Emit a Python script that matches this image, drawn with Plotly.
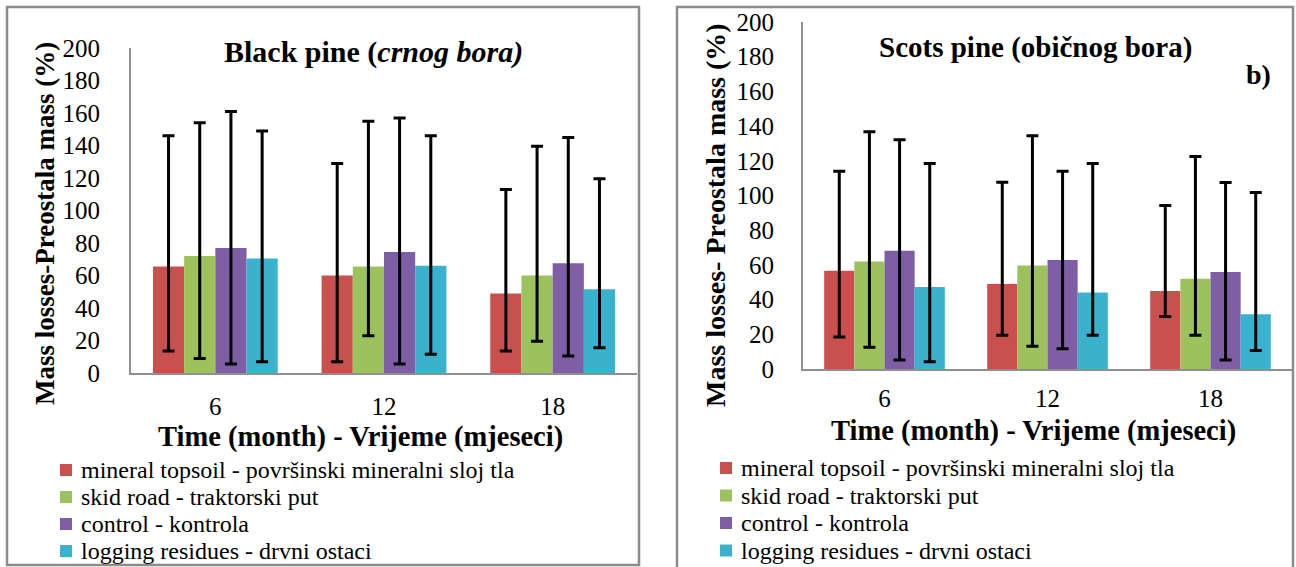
import plotly.graph_objects as go

W, H = 1296, 567

categories = ["6", "12", "18"]
series_names = [
    "mineral topsoil - površinski mineralni sloj tla",
    "skid road - traktorski put",
    "control - kontrola",
    "logging residues - drvni ostaci",
]
colors = ["#C8504E", "#9BC25C", "#7E5FA6", "#3AB2CE"]

# Black pine (left): mean, upper end of error bar, lower end of error bar
black_mineral = [65.5, 60.0, 49.0]
black_skid = [72.0, 65.5, 60.0]
black_control = [77.0, 74.5, 67.5]
black_residues = [70.5, 66.0, 51.5]
black_mineral_hi = [146, 129, 113]
black_skid_hi = [154, 155, 139.5]
black_control_hi = [161, 157, 145]
black_residues_hi = [149, 146, 119.5]
black_mineral_lo = [13.5, 7, 13.5]
black_skid_lo = [9, 23, 19.5]
black_control_lo = [5.5, 5.5, 10.5]
black_residues_lo = [7, 11.5, 15.5]

# Scots pine (right)
scots_mineral = [56.6, 49.0, 45.0]
scots_skid = [62.0, 59.7, 52.0]
scots_control = [68.2, 62.8, 55.9]
scots_residues = [47.2, 44.1, 31.6]
scots_mineral_hi = [114, 107.7, 94.2]
scots_skid_hi = [136.8, 134.5, 122.5]
scots_control_hi = [132.2, 114, 107.5]
scots_residues_hi = [118.5, 118.5, 101.7]
scots_mineral_lo = [18.5, 19.5, 30.2]
scots_skid_lo = [12.5, 13.1, 19.5]
scots_control_lo = [5.2, 11.6, 5.2]
scots_residues_lo = [4.2, 19.5, 10.6]

y_ticks = [0, 20, 40, 60, 80, 100, 120, 140, 160, 180, 200]

FONT = "Liberation Serif"

fig = go.Figure()

panels = [
    ("x", "y",
     [black_mineral, black_skid, black_control, black_residues],
     [black_mineral_hi, black_skid_hi, black_control_hi, black_residues_hi],
     [black_mineral_lo, black_skid_lo, black_control_lo, black_residues_lo]),
    ("x2", "y2",
     [scots_mineral, scots_skid, scots_control, scots_residues],
     [scots_mineral_hi, scots_skid_hi, scots_control_hi, scots_residues_hi],
     [scots_mineral_lo, scots_skid_lo, scots_control_lo, scots_residues_lo]),
]

for xa, ya, means, his, los in panels:
    for name, col, m, hi, lo in zip(series_names, colors, means, his, los):
        fig.add_trace(go.Bar(
            x=categories, y=m, name=name, xaxis=xa, yaxis=ya,
            marker=dict(color=col, line=dict(width=0)),
            error_y=dict(type="data", symmetric=False,
                         array=[h - v for h, v in zip(hi, m)],
                         arrayminus=[v - l for v, l in zip(m, lo)],
                         color="black", thickness=3, width=6),
            showlegend=False,
        ))


def px_x(p):
    return p / W


def px_y(p):
    return 1 - p / H


axis_common = dict(showgrid=False, zeroline=False, showline=True, automargin=False,
                   linecolor="#8f8f8f", linewidth=2,
                   tickfont=dict(family=FONT, size=25, color="black"))

fig.update_layout(
    template="none",
    width=W, height=H,
    margin=dict(l=0, r=0, t=0, b=0, pad=0),
    paper_bgcolor="white", plot_bgcolor="white",
    font=dict(family=FONT, color="black"),
    barmode="group", bargap=0.26, bargroupgap=0,
    showlegend=False,
    xaxis=dict(domain=[px_x(131), px_x(637)], anchor="y", type="category",
               range=[-0.5, 2.5], ticks="outside", ticklen=10,
               tickcolor="rgba(0,0,0,0)", **axis_common),
    yaxis=dict(domain=[px_y(373), px_y(48)], anchor="x", range=[0, 200],
               tickvals=y_ticks, ticks="outside", ticklen=24,
               tickcolor="rgba(0,0,0,0)", **axis_common),
    xaxis2=dict(domain=[px_x(803), px_x(1292)], anchor="y2", type="category",
                range=[-0.5, 2.5], ticks="outside", ticklen=6,
                tickcolor="rgba(0,0,0,0)", **axis_common),
    yaxis2=dict(domain=[px_y(369), px_y(22)], anchor="x2", range=[0, 200],
                tickvals=y_ticks, ticks="outside", ticklen=22,
                tickcolor="rgba(0,0,0,0)", **axis_common),
)

shapes = [
    dict(type="rect", xref="paper", yref="paper",
         x0=px_x(7), x1=px_x(639), y0=px_y(565), y1=px_y(7),
         line=dict(color="#8c8c8c", width=2.5), layer="below"),
    dict(type="rect", xref="paper", yref="paper",
         x0=px_x(677), x1=px_x(1293), y0=px_y(575), y1=px_y(7),
         line=dict(color="#8c8c8c", width=2.5), layer="below"),
]

annotations = []


def ann(text, x, y, size, xanchor="center", angle=0):
    annotations.append(dict(text=text, x=px_x(x), y=px_y(y), xref="paper", yref="paper",
                            xanchor=xanchor, yanchor="middle", showarrow=False,
                            textangle=angle, borderpad=0,
                            font=dict(family=FONT, size=size, color="black")))


ann("<b>Black pine (<i>crnog bora)</i></b>", 373, 52, 30)
ann("<b>Scots pine (običnog bora)</b>", 1035, 47, 29)
ann("<b>b)</b>", 1258, 74, 28)
ann("<b>Mass losses-Preostala mass (%)</b>", 45, 224, 27, angle=-90)
ann("<b>Mass losses- Preostala mass (%)</b>", 715, 215, 28, angle=-90)
ann("<b>Time (month) - Vrijeme (mjeseci)</b>", 360, 437, 28.5)
ann("<b>Time (month) - Vrijeme (mjeseci)</b>", 1033, 431, 28.5)

legend_rows_left = [470, 497, 524, 551]
legend_rows_right = [468, 495.5, 523, 550.5]
for (sq_x, tx_x, rows) in [(60, 80, legend_rows_left), (720, 740, legend_rows_right)]:
    for name, col, ry in zip(series_names, colors, rows):
        shapes.append(dict(type="rect", xref="paper", yref="paper",
                           x0=px_x(sq_x), x1=px_x(sq_x + 12),
                           y0=px_y(ry + 6), y1=px_y(ry - 6),
                           fillcolor=col, line=dict(width=0)))
        ann(name, tx_x, ry, 24, xanchor="left")

fig.update_layout(shapes=shapes, annotations=annotations)

fig.write_html("out.html")
